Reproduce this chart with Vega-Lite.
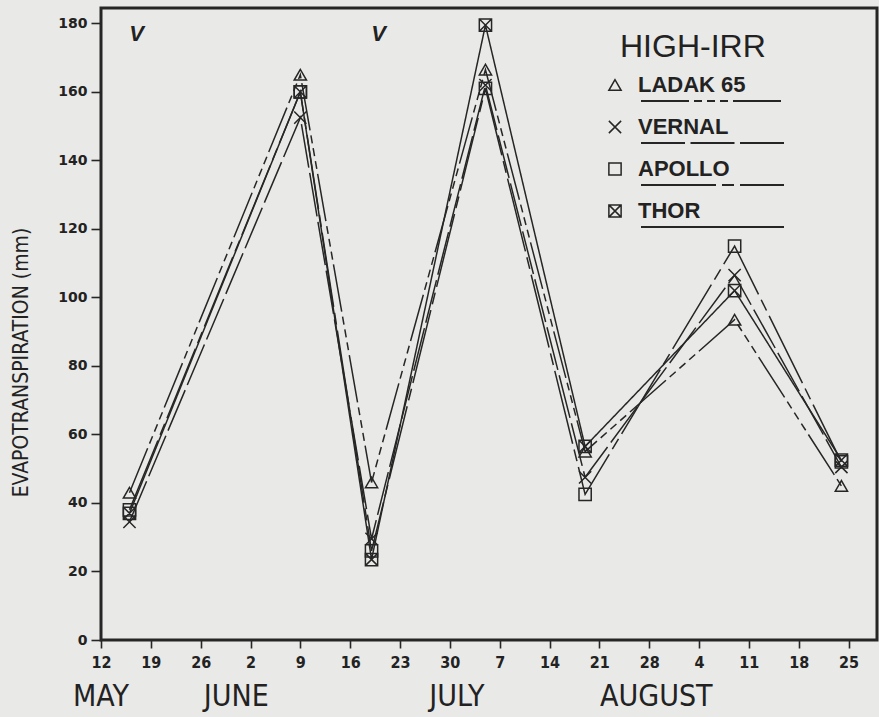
{
  "$schema": "https://vega.github.io/schema/vega-lite/v6.json",
  "width": 776,
  "height": 632,
  "autosize": {"type": "none"},
  "padding": {"left": 101, "top": 8, "right": 2, "bottom": 77},
  "background": "#e9e9e7",
  "config": {
    "view": {"stroke": "#262626", "strokeWidth": 3},
    "axis": {"domain": false, "grid": false, "tickColor": "#262626", "tickWidth": 1.6, "labelColor": "#222222", "titleColor": "#222222"}
  },
  "data": {
    "values": [
      {"date": "1983-05-16", "variety": "LADAK 65", "et": 43},
      {"date": "1983-06-09", "variety": "LADAK 65", "et": 165},
      {"date": "1983-06-19", "variety": "LADAK 65", "et": 46},
      {"date": "1983-07-05", "variety": "LADAK 65", "et": 166.5},
      {"date": "1983-07-19", "variety": "LADAK 65", "et": 55},
      {"date": "1983-08-09", "variety": "LADAK 65", "et": 93.5},
      {"date": "1983-08-24", "variety": "LADAK 65", "et": 45},
      {"date": "1983-05-16", "variety": "VERNAL", "et": 34.5},
      {"date": "1983-06-09", "variety": "VERNAL", "et": 152.5},
      {"date": "1983-06-19", "variety": "VERNAL", "et": 29.5},
      {"date": "1983-07-05", "variety": "VERNAL", "et": 162},
      {"date": "1983-07-19", "variety": "VERNAL", "et": 47.5},
      {"date": "1983-08-09", "variety": "VERNAL", "et": 106.5},
      {"date": "1983-08-24", "variety": "VERNAL", "et": 50.5},
      {"date": "1983-05-16", "variety": "APOLLO", "et": 38},
      {"date": "1983-06-09", "variety": "APOLLO", "et": 160},
      {"date": "1983-06-19", "variety": "APOLLO", "et": 26},
      {"date": "1983-07-05", "variety": "APOLLO", "et": 161},
      {"date": "1983-07-19", "variety": "APOLLO", "et": 42.5},
      {"date": "1983-08-09", "variety": "APOLLO", "et": 115},
      {"date": "1983-08-24", "variety": "APOLLO", "et": 52},
      {"date": "1983-05-16", "variety": "THOR", "et": 37},
      {"date": "1983-06-09", "variety": "THOR", "et": 160},
      {"date": "1983-06-19", "variety": "THOR", "et": 23.5},
      {"date": "1983-07-05", "variety": "THOR", "et": 179.5},
      {"date": "1983-07-19", "variety": "THOR", "et": 56.5},
      {"date": "1983-08-09", "variety": "THOR", "et": 102},
      {"date": "1983-08-24", "variety": "THOR", "et": 52.5}
    ]
  },
  "encoding": {
    "x": {
      "field": "date",
      "type": "temporal",
      "scale": {
        "type": "utc",
        "domain": [
          {"year": 1983, "month": 5, "date": 12, "utc": true},
          {"year": 1983, "month": 8, "date": 29, "utc": true}
        ]
      },
      "axis": {
        "values": [
          {"year": 1983, "month": 5, "date": 12, "utc": true},
          {"year": 1983, "month": 5, "date": 19, "utc": true},
          {"year": 1983, "month": 5, "date": 26, "utc": true},
          {"year": 1983, "month": 6, "date": 2, "utc": true},
          {"year": 1983, "month": 6, "date": 9, "utc": true},
          {"year": 1983, "month": 6, "date": 16, "utc": true},
          {"year": 1983, "month": 6, "date": 23, "utc": true},
          {"year": 1983, "month": 6, "date": 30, "utc": true},
          {"year": 1983, "month": 7, "date": 7, "utc": true},
          {"year": 1983, "month": 7, "date": 14, "utc": true},
          {"year": 1983, "month": 7, "date": 21, "utc": true},
          {"year": 1983, "month": 7, "date": 28, "utc": true},
          {"year": 1983, "month": 8, "date": 4, "utc": true},
          {"year": 1983, "month": 8, "date": 11, "utc": true},
          {"year": 1983, "month": 8, "date": 18, "utc": true},
          {"year": 1983, "month": 8, "date": 25, "utc": true}
        ],
        "format": "%-d",
        "title": null,
        "labelFont": "DejaVu Sans Condensed, Liberation Sans",
        "labelFontSize": 16,
        "labelFontWeight": "bold",
        "tickSize": 8,
        "labelPadding": 6,
        "labelFlush": false,
        "labelOverlap": false
      }
    }
  },
  "layer": [
    {
      "mark": {"type": "line", "color": "#262626", "strokeWidth": 1.5},
      "encoding": {
        "y": {
          "field": "et",
          "type": "quantitative",
          "scale": {"domain": [0, 184.5], "nice": false},
          "axis": {
            "values": [0, 20, 40, 60, 80, 100, 120, 140, 160, 180],
            "title": "EVAPOTRANSPIRATION (mm)",
            "titleFont": "DejaVu Sans Condensed, Liberation Sans",
            "titleFontSize": 21,
            "titleFontWeight": "normal",
            "titlePadding": 26,
            "titleY": 354,
            "labelFont": "DejaVu Sans",
            "labelFontSize": 14,
            "labelFontWeight": "bold",
            "tickSize": 10,
            "labelPadding": 4
          }
        },
        "strokeDash": {
          "field": "variety",
          "type": "nominal",
          "scale": {
            "domain": ["LADAK 65", "VERNAL", "APOLLO", "THOR"],
            "range": [[48, 5, 8, 5, 8, 5, 8, 5], [44, 5.5], [75, 6, 12, 6], [1, 0]]
          },
          "legend": {
            "title": null,
            "orient": "none",
            "legendX": 539,
            "legendY": 82,
            "padding": 0,
            "symbolType": "M-1,0H13.3",
            "symbolSize": 400,
            "symbolStrokeWidth": 1.8,
            "symbolStrokeColor": "#262626",
            "symbolFillColor": "transparent",
            "labelExpr": "''",
            "labelFontSize": 1,
            "labelOffset": 0,
            "rowPadding": 27
          }
        }
      }
    },
    {
      "mark": {"type": "point", "filled": false, "color": "#262626", "strokeWidth": 1.5, "size": 150, "opacity": 1},
      "encoding": {
        "y": {"field": "et", "type": "quantitative"},
        "shape": {
          "field": "variety",
          "type": "nominal",
          "sort": ["LADAK 65", "VERNAL", "APOLLO", "THOR"],
          "scale": {
            "range": ["triangle-up", "M-1,-1L1,1M-1,1L1,-1", "square", "M-1,-1H1V1H-1ZM-1,-1L1,1M-1,1L1,-1"]
          },
          "legend": {
            "title": "HIGH-IRR",
            "orient": "none",
            "legendX": 519,
            "legendY": 24,
            "padding": 0,
            "titleFont": "Liberation Sans",
            "titleFontSize": 32,
            "titleFontWeight": "normal",
            "titleColor": "#222222",
            "titlePadding": 10,
            "labelFont": "Liberation Sans",
            "labelFontSize": 22,
            "labelFontWeight": "bold",
            "labelColor": "#222222",
            "symbolSize": 150,
            "symbolStrokeWidth": 1.5,
            "symbolStrokeColor": "#262626",
            "symbolOffset": -16,
            "labelOffset": 12,
            "rowPadding": 20
          }
        }
      }
    },
    {
      "data": {"values": [{"date": "1983-05-17", "label": "V"}, {"date": "1983-06-20", "label": "V"}]},
      "mark": {"type": "text", "font": "Liberation Sans", "fontSize": 22, "fontWeight": "bold", "fontStyle": "italic", "color": "#222222", "baseline": "middle"},
      "encoding": {
        "y": {"datum": 177, "type": "quantitative"},
        "text": {"field": "label"}
      }
    },
    {
      "data": {"values": [
        {"date": "1983-05-12", "month": "MAY"},
        {"date": "1983-05-31", "month": "JUNE"},
        {"date": "1983-07-01", "month": "JULY"},
        {"date": "1983-07-29", "month": "AUGUST"}
      ]},
      "mark": {"type": "text", "font": "DejaVu Sans Condensed, Liberation Sans", "fontSize": 30, "color": "#222222", "baseline": "middle", "dy": 57},
      "encoding": {
        "y": {"datum": 0, "type": "quantitative"},
        "text": {"field": "month"}
      }
    }
  ]
}
